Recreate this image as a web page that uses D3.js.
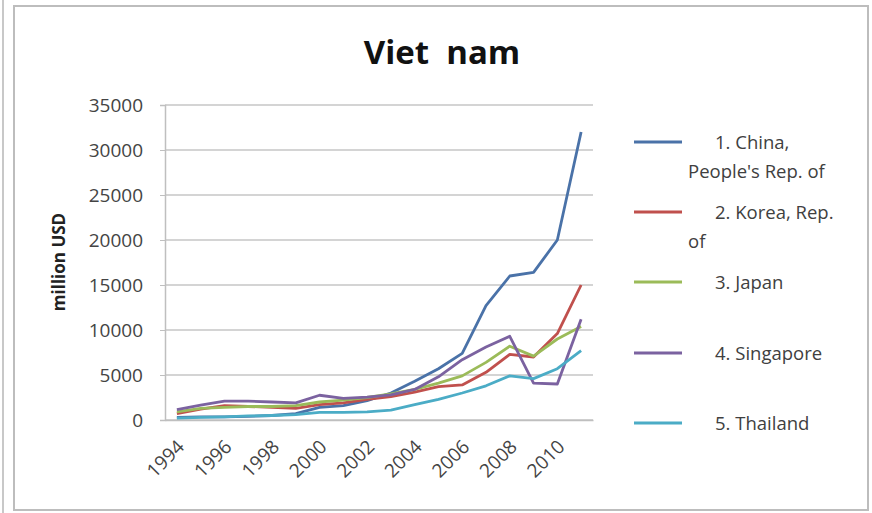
<!DOCTYPE html>
<html><head><meta charset="utf-8">
<script src="https://cdn.jsdelivr.net/npm/d3@7"></script>
<style>body{margin:0;background:#fff}svg{display:block}text{font-family:"Open Sans",sans-serif}</style>
</head><body>
<script>
const years = [1994,1995,1996,1997,1998,1999,2000,2001,2002,2003,2004,2005,2006,2007,2008,2009,2010,2011];
const tickYears = [1994,1996,1998,2000,2002,2004,2006,2008,2010];
const yTicks = [0,5000,10000,15000,20000,25000,30000,35000];
const seriesNames = ["1. China, People's Rep. of","2. Korea, Rep. of","3. Japan","4. Singapore","5. Thailand"];
const china     = [300,350,350,400,500,700,1400,1600,2150,3000,4300,5700,7400,12700,16000,16400,20000,32000];
const korea     = [700,1200,1600,1500,1400,1300,1700,1900,2300,2600,3100,3700,3900,5300,7300,7000,9600,15000];
const japan     = [900,1300,1400,1500,1500,1600,2000,2200,2500,2900,3400,4100,4900,6400,8200,7100,9000,10400];
const singapore = [1150,1650,2100,2100,2000,1900,2750,2400,2550,2800,3400,4800,6700,8100,9300,4100,4000,11200];
const thailand  = [200,300,350,450,500,600,850,850,900,1100,1700,2300,3000,3800,4900,4600,5700,7700];
const seriesValues = [china,korea,japan,singapore,thailand];
const colors = ["#4A72A8","#C0504D","#9BBB59","#7B62A0","#4BACC6"];
const legendLines = [["1. China,","People's Rep. of"],["2. Korea, Rep.","of"],["3. Japan"],["4. Singapore"],["5. Thailand"]];

const W=872,H=513;
const svg=d3.select("body").append("svg").attr("width",W).attr("height",H);
// frame
svg.append("line").attr("x1",3).attr("x2",3).attr("y1",0).attr("y2",H).attr("stroke","#c8c8c8").attr("stroke-width",2);
svg.append("rect").attr("x",14).attr("y",6).attr("width",854).attr("height",504).attr("fill","#fff").attr("stroke","#bdbdbd").attr("stroke-width",2);

const x=d3.scalePoint().domain(years).range([165,593]).padding(0.5);
const y=d3.scaleLinear().domain([0,35000]).range([420,105]);

// gridlines
svg.append("g").selectAll("line").data(yTicks).join("line")
  .attr("x1",165).attr("x2",593).attr("y1",d=>y(d)).attr("y2",d=>y(d))
  .attr("stroke","#d4d4d4").attr("stroke-width",2);

const yAxis=svg.append("g").attr("transform","translate(165,0)")
  .call(d3.axisLeft(y).tickValues(yTicks).tickSize(5).tickPadding(17).tickFormat(d3.format("d")));
yAxis.select(".domain").attr("stroke","#bfbfbf").attr("stroke-width",1.5);
yAxis.selectAll(".tick line").attr("stroke","#bfbfbf");
yAxis.selectAll("text").attr("font-size",19).attr("fill","#444").attr("font-family","Open Sans");

const xAxis=svg.append("g").attr("transform","translate(0,420)")
  .call(d3.axisBottom(x).tickValues(tickYears).tickSize(0));
xAxis.select(".domain").attr("stroke","#bfbfbf").attr("stroke-width",1.5);
xAxis.selectAll("text").attr("font-size",19).attr("fill","#444").attr("font-family","Open Sans")
  .attr("text-anchor","end").attr("dy",0).attr("y",0)
  .attr("transform","translate(8,28) rotate(-45)");

// lines
const line=d3.line().x((d,i)=>x(years[i])).y(d=>y(d));
svg.append("g").selectAll("path").data(seriesValues).join("path")
  .attr("d",line).attr("fill","none").attr("stroke",(d,i)=>colors[i])
  .attr("stroke-width",2.8).attr("stroke-linejoin","round");

// title
svg.append("text").attr("x",442).attr("y",64).attr("text-anchor","middle")
  .attr("font-size",33).attr("font-weight","bold").attr("fill","#111").attr("xml:space","preserve").text("Viet  nam");

// y title
svg.append("text").attr("transform","translate(65,262) rotate(-90)").attr("text-anchor","middle")
  .attr("font-size",17).attr("font-weight","bold").attr("fill","#222").text("million USD");

// legend
const legY=[142,212,282,353,423];
const lg=svg.append("g").selectAll("g").data(seriesNames).join("g");
lg.append("line").attr("x1",634).attr("x2",682).attr("y1",(d,i)=>legY[i]).attr("y2",(d,i)=>legY[i])
  .attr("stroke",(d,i)=>colors[i]).attr("stroke-width",2.8);
lg.each(function(d,i){
  const g=d3.select(this);
  legendLines[i].forEach((t,j)=>{
    g.append("text").attr("x",j===0?715:688).attr("y",legY[i]+7+j*29)
      .attr("font-size",18.5).attr("fill","#404040").text(t);
  });
});
</script>
</body></html>
